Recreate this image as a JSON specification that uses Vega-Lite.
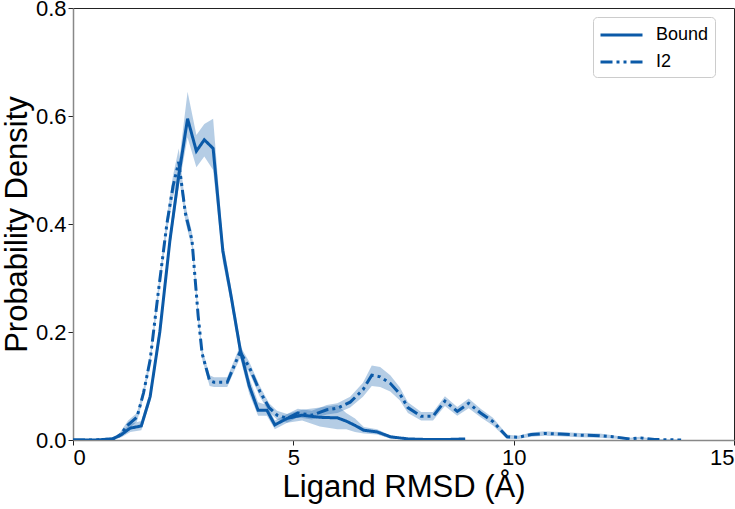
{
  "$schema": "https://vega.github.io/schema/vega-lite/v6.json",
  "width": 661,
  "height": 432,
  "autosize": {"type": "none"},
  "padding": {"left": 73, "top": 8, "right": 1, "bottom": 69},
  "background": "white",
  "config": {
    "font": "Liberation Sans",
    "view": {"stroke": "#222", "strokeWidth": 1}
  },
  "data": {
    "values": [
      {"series": "Bound", "x": 0, "y": 0, "lo": 0, "hi": 0},
      {"series": "Bound", "x": 0.5, "y": 0, "lo": 0, "hi": 0},
      {"series": "Bound", "x": 0.9, "y": 0.002, "lo": 0, "hi": 0.004},
      {"series": "Bound", "x": 1.1, "y": 0.01, "lo": 0.005, "hi": 0.015},
      {"series": "Bound", "x": 1.3, "y": 0.022, "lo": 0.015, "hi": 0.03},
      {"series": "Bound", "x": 1.55, "y": 0.026, "lo": 0.018, "hi": 0.035},
      {"series": "Bound", "x": 1.75, "y": 0.08, "lo": 0.07, "hi": 0.09},
      {"series": "Bound", "x": 1.97, "y": 0.2, "lo": 0.185, "hi": 0.215},
      {"series": "Bound", "x": 2.2, "y": 0.37, "lo": 0.355, "hi": 0.385},
      {"series": "Bound", "x": 2.4, "y": 0.49, "lo": 0.47, "hi": 0.51},
      {"series": "Bound", "x": 2.6, "y": 0.595, "lo": 0.56, "hi": 0.645},
      {"series": "Bound", "x": 2.8, "y": 0.535, "lo": 0.505, "hi": 0.565},
      {"series": "Bound", "x": 2.98, "y": 0.556, "lo": 0.525, "hi": 0.585},
      {"series": "Bound", "x": 3.18, "y": 0.54, "lo": 0.5, "hi": 0.595},
      {"series": "Bound", "x": 3.4, "y": 0.35, "lo": 0.33, "hi": 0.37},
      {"series": "Bound", "x": 3.58, "y": 0.27, "lo": 0.255, "hi": 0.285},
      {"series": "Bound", "x": 3.8, "y": 0.165, "lo": 0.15, "hi": 0.18},
      {"series": "Bound", "x": 4.0, "y": 0.1, "lo": 0.085, "hi": 0.115},
      {"series": "Bound", "x": 4.2, "y": 0.055, "lo": 0.045, "hi": 0.07},
      {"series": "Bound", "x": 4.4, "y": 0.055, "lo": 0.045, "hi": 0.065},
      {"series": "Bound", "x": 4.58, "y": 0.028, "lo": 0.02, "hi": 0.036},
      {"series": "Bound", "x": 4.86, "y": 0.04, "lo": 0.032, "hi": 0.048},
      {"series": "Bound", "x": 5.2, "y": 0.046, "lo": 0.036, "hi": 0.056},
      {"series": "Bound", "x": 5.6, "y": 0.042, "lo": 0.025, "hi": 0.06},
      {"series": "Bound", "x": 6.0, "y": 0.041, "lo": 0.02, "hi": 0.065},
      {"series": "Bound", "x": 6.2, "y": 0.035, "lo": 0.02, "hi": 0.05},
      {"series": "Bound", "x": 6.4, "y": 0.027, "lo": 0.015, "hi": 0.04},
      {"series": "Bound", "x": 6.6, "y": 0.018, "lo": 0.012, "hi": 0.024},
      {"series": "Bound", "x": 6.9, "y": 0.015, "lo": 0.01, "hi": 0.02},
      {"series": "Bound", "x": 7.2, "y": 0.006, "lo": 0.003, "hi": 0.009},
      {"series": "Bound", "x": 7.6, "y": 0.002, "lo": 0.001, "hi": 0.003},
      {"series": "Bound", "x": 8.0, "y": 0.001, "lo": 0, "hi": 0.002},
      {"series": "Bound", "x": 8.5, "y": 0.001, "lo": 0, "hi": 0.002},
      {"series": "Bound", "x": 8.9, "y": 0.002, "lo": 0.001, "hi": 0.003},
      {"series": "I2", "x": 0, "y": 0, "lo": 0, "hi": 0},
      {"series": "I2", "x": 0.5, "y": 0, "lo": 0, "hi": 0},
      {"series": "I2", "x": 0.9, "y": 0.002, "lo": 0, "hi": 0.004},
      {"series": "I2", "x": 1.05, "y": 0.008, "lo": 0.004, "hi": 0.012},
      {"series": "I2", "x": 1.25, "y": 0.028, "lo": 0.02, "hi": 0.036},
      {"series": "I2", "x": 1.45, "y": 0.042, "lo": 0.034, "hi": 0.05},
      {"series": "I2", "x": 1.6, "y": 0.087, "lo": 0.078, "hi": 0.096},
      {"series": "I2", "x": 1.75, "y": 0.148, "lo": 0.138, "hi": 0.158},
      {"series": "I2", "x": 1.93, "y": 0.27, "lo": 0.258, "hi": 0.282},
      {"series": "I2", "x": 2.13, "y": 0.4, "lo": 0.385, "hi": 0.415},
      {"series": "I2", "x": 2.27, "y": 0.47, "lo": 0.45, "hi": 0.49},
      {"series": "I2", "x": 2.4, "y": 0.515, "lo": 0.49, "hi": 0.54},
      {"series": "I2", "x": 2.55, "y": 0.42, "lo": 0.405, "hi": 0.435},
      {"series": "I2", "x": 2.7, "y": 0.37, "lo": 0.355, "hi": 0.385},
      {"series": "I2", "x": 2.84, "y": 0.23, "lo": 0.218, "hi": 0.242},
      {"series": "I2", "x": 2.93, "y": 0.16, "lo": 0.15, "hi": 0.17},
      {"series": "I2", "x": 3.1, "y": 0.11, "lo": 0.1, "hi": 0.12},
      {"series": "I2", "x": 3.2, "y": 0.107, "lo": 0.098, "hi": 0.116},
      {"series": "I2", "x": 3.5, "y": 0.107, "lo": 0.098, "hi": 0.116},
      {"series": "I2", "x": 3.79, "y": 0.163, "lo": 0.152, "hi": 0.174},
      {"series": "I2", "x": 4.0, "y": 0.135, "lo": 0.125, "hi": 0.145},
      {"series": "I2", "x": 4.24, "y": 0.09, "lo": 0.08, "hi": 0.1},
      {"series": "I2", "x": 4.45, "y": 0.06, "lo": 0.052, "hi": 0.068},
      {"series": "I2", "x": 4.63, "y": 0.046, "lo": 0.038, "hi": 0.054},
      {"series": "I2", "x": 4.86, "y": 0.04, "lo": 0.032, "hi": 0.048},
      {"series": "I2", "x": 5.1, "y": 0.05, "lo": 0.042, "hi": 0.058},
      {"series": "I2", "x": 5.42, "y": 0.046, "lo": 0.038, "hi": 0.054},
      {"series": "I2", "x": 5.76, "y": 0.056, "lo": 0.047, "hi": 0.065},
      {"series": "I2", "x": 6.0, "y": 0.059, "lo": 0.05, "hi": 0.068},
      {"series": "I2", "x": 6.29, "y": 0.07, "lo": 0.06, "hi": 0.08},
      {"series": "I2", "x": 6.58, "y": 0.093, "lo": 0.08, "hi": 0.106},
      {"series": "I2", "x": 6.78, "y": 0.12, "lo": 0.1, "hi": 0.138},
      {"series": "I2", "x": 6.97, "y": 0.117, "lo": 0.098, "hi": 0.135},
      {"series": "I2", "x": 7.2, "y": 0.105, "lo": 0.09, "hi": 0.12},
      {"series": "I2", "x": 7.42, "y": 0.085, "lo": 0.073, "hi": 0.097},
      {"series": "I2", "x": 7.6, "y": 0.06, "lo": 0.05, "hi": 0.07},
      {"series": "I2", "x": 7.9, "y": 0.044, "lo": 0.036, "hi": 0.052},
      {"series": "I2", "x": 8.17, "y": 0.044, "lo": 0.036, "hi": 0.052},
      {"series": "I2", "x": 8.44, "y": 0.072, "lo": 0.063, "hi": 0.081},
      {"series": "I2", "x": 8.72, "y": 0.053, "lo": 0.045, "hi": 0.061},
      {"series": "I2", "x": 8.98, "y": 0.068, "lo": 0.059, "hi": 0.077},
      {"series": "I2", "x": 9.25, "y": 0.05, "lo": 0.042, "hi": 0.058},
      {"series": "I2", "x": 9.53, "y": 0.034, "lo": 0.027, "hi": 0.041},
      {"series": "I2", "x": 9.85, "y": 0.006, "lo": 0.002, "hi": 0.01},
      {"series": "I2", "x": 10.1, "y": 0.005, "lo": 0.002, "hi": 0.008},
      {"series": "I2", "x": 10.4, "y": 0.01, "lo": 0.006, "hi": 0.014},
      {"series": "I2", "x": 10.7, "y": 0.012, "lo": 0.008, "hi": 0.016},
      {"series": "I2", "x": 11.05, "y": 0.011, "lo": 0.007, "hi": 0.015},
      {"series": "I2", "x": 11.5, "y": 0.009, "lo": 0.005, "hi": 0.013},
      {"series": "I2", "x": 11.95, "y": 0.008, "lo": 0.004, "hi": 0.012},
      {"series": "I2", "x": 12.25, "y": 0.006, "lo": 0.003, "hi": 0.009},
      {"series": "I2", "x": 12.64, "y": 0.002, "lo": 0.001, "hi": 0.004},
      {"series": "I2", "x": 12.87, "y": 0.004, "lo": 0.002, "hi": 0.006},
      {"series": "I2", "x": 13.2, "y": 0.001, "lo": 0, "hi": 0.002},
      {"series": "I2", "x": 13.8, "y": 0, "lo": 0, "hi": 0.001}
    ]
  },
  "encoding": {
    "x": {
      "field": "x", "type": "quantitative",
      "scale": {"domain": [0, 15], "nice": false, "zero": false},
      "axis": {
        "title": "Ligand RMSD (Å)",
        "values": [0, 5, 10, 15],
        "grid": false,
        "labelFontSize": 22, "labelColor": "#000", "labelPadding": 2,
        "tickColor": "#222", "tickSize": 5, "tickWidth": 1,
        "domainColor": "#888", "domainWidth": 1.5,
        "titleFontSize": 31, "titleFontWeight": "normal", "titleColor": "#000",
        "titleY": 56, "titleBaseline": "alphabetic"
      }
    },
    "y": {
      "field": "y", "type": "quantitative",
      "scale": {"domain": [0, 0.8], "nice": false},
      "axis": {
        "title": "Probability Density",
        "values": [0, 0.2, 0.4, 0.6, 0.8],
        "format": ".1f",
        "grid": false,
        "labelFontSize": 22, "labelColor": "#000", "labelPadding": 2,
        "tickColor": "#222", "tickSize": 5, "tickWidth": 1,
        "domainColor": "#888", "domainWidth": 1.5,
        "titleFontSize": 31, "titleFontWeight": "normal", "titleColor": "#000",
        "titleX": -71, "titleBaseline": "top"
      }
    }
  },
  "layer": [
    {
      "mark": {"type": "area", "color": "#0b5aa8", "opacity": 0.3, "clip": true},
      "encoding": {
        "y": {"field": "lo", "type": "quantitative"},
        "y2": {"field": "hi"},
        "detail": {"field": "series"}
      }
    },
    {
      "mark": {"type": "line", "color": "#0b5aa8", "strokeWidth": 3, "clip": true},
      "encoding": {
        "strokeDash": {
          "field": "series", "type": "nominal",
          "scale": {"domain": ["Bound", "I2"], "range": [[1, 0], [12, 4, 3, 4, 3, 4]]},
          "legend": {
            "title": null,
            "orient": "none",
            "legendX": 520,
            "legendY": 9,
            "symbolType": "M-1,0H3",
            "symbolSize": 441,
            "symbolStrokeWidth": 3,
            "symbolStrokeColor": "#0b5aa8",
            "labelFontSize": 18,
            "labelColor": "#000",
            "labelOffset": 33,
            "rowPadding": 6,
            "padding": 6,
            "strokeColor": "#ccc",
            "cornerRadius": 4,
            "fillColor": "white"
          }
        }
      }
    }
  ]
}
